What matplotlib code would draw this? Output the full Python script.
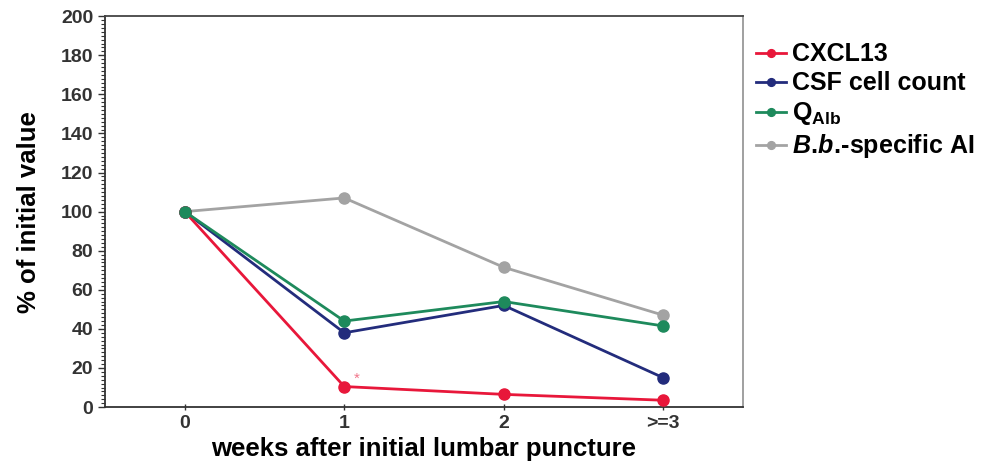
import numpy as np
import matplotlib
matplotlib.use('Agg')
import matplotlib.pyplot as plt
from matplotlib.ticker import MultipleLocator

plt.rcParams['font.family'] = ['Liberation Sans', 'DejaVu Sans']
plt.rcParams['mathtext.fontset'] = 'custom'
plt.rcParams['mathtext.rm'] = 'Liberation Sans:bold'
plt.rcParams['mathtext.it'] = 'Liberation Sans:bold:italic'
plt.rcParams['mathtext.bf'] = 'Liberation Sans:bold'

# data
weeks = ['0', '1', '2', '>=3']
cxcl13 = [100, 10.5, 6.5, 3.5]
csf_cells = [100, 38, 52, 15]
q_alb = [100, 44, 54, 41.5]
bb_ai = [100, 107, 71.5, 47]

labels = ['CXCL13', 'CSF cell count', r'Q$_{\mathrm{Alb}}$',
          r'$\mathit{B.\!b.\!}$-specific AI']
colors = ['#e8173a', '#232c7c', '#1e8a5c', '#a3a3a3']
series = [cxcl13, csf_cells, q_alb, bb_ai]

fig = plt.figure(figsize=(9.97, 4.75), dpi=100)
ax = fig.add_axes([0.1053, 0.143, 0.6400, 0.823])

x = np.arange(len(weeks))
zs = [4, 3, 5, 2]
for vals, lab, col, z in zip(series, labels, colors, zs):
    ax.plot(x, vals, '-o', color=col, lw=2.0, ms=8, label=lab, zorder=z)

# significance mark
ax.text(1.08, 14.5, '*', color='#e8173a', alpha=0.6, fontsize=11,
        ha='center', va='center')

ax.set_xlim(-0.5, 3.5)
ax.set_ylim(0, 200)
ax.set_xticks(x)
ax.set_xticklabels(weeks)
ax.yaxis.set_major_locator(MultipleLocator(20))
ax.yaxis.set_minor_locator(MultipleLocator(2))

for lab in ax.get_xticklabels() + ax.get_yticklabels():
    lab.set_fontweight('bold')
    lab.set_color('#333333')
ax.tick_params(axis='both', labelsize=14, width=1, length=5, color='#333333')
ax.tick_params(axis='y', which='minor', length=3, width=0.8, color='#333333')
ax.tick_params(axis='x', length=5, direction='inout')

ax.spines['left'].set_color('#333333')
ax.spines['bottom'].set_color('#333333')
ax.spines['top'].set_color('#444444')
ax.spines['right'].set_color('#999999')
for s in ax.spines.values():
    s.set_linewidth(1.3)

ax.set_xlabel('weeks after initial lumbar puncture', fontsize=18.5, fontweight='bold', labelpad=3)
ax.set_ylabel('% of initial value', fontsize=18.5, fontweight='bold', labelpad=14)

leg = ax.legend(loc='upper left', bbox_to_anchor=(1.0, 0.965), frameon=False,
                handlelength=1.2, handletextpad=0.25, labelspacing=0.2,
                markerscale=0.7, borderaxespad=0.1,
                prop={'size': 18, 'weight': 'bold'})

fig.savefig('out.png', dpi=100)
